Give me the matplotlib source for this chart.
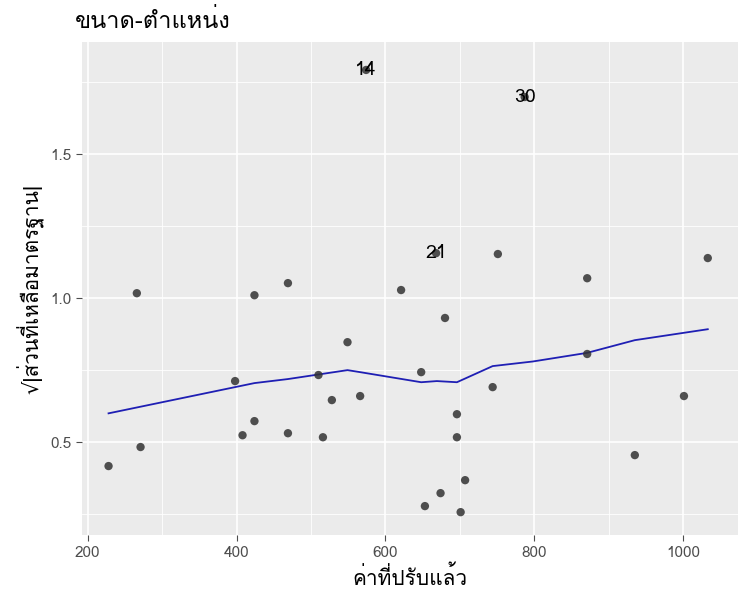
import matplotlib
matplotlib.use("Agg")
import matplotlib.pyplot as plt
from matplotlib import font_manager
from fontTools.ttLib import TTFont

# find an installed font that has Thai glyphs
thai_font = None
for f in font_manager.fontManager.ttflist:
    try:
        tt = TTFont(f.fname, fontNumber=0, lazy=True)
        if 0x0E02 in tt.getBestCmap():
            thai_font = f.name
            break
    except Exception:
        pass
fams = ([thai_font] if thai_font else []) + ['DejaVu Sans']
plt.rcParams['font.family'] = fams

fitted = [228, 271, 266, 398, 408, 424, 424, 469, 469, 510, 516, 528, 549, 566, 574,
          621, 648, 653, 668, 674, 680, 696, 696, 701, 707, 744, 751, 787, 871, 871,
          935, 1001, 1033]
sqrt_std = [0.417, 0.483, 1.017, 0.712, 0.524, 0.573, 1.010, 1.052, 0.531, 0.733, 0.517,
            0.646, 0.847, 0.660, 1.792, 1.028, 0.743, 0.278, 1.156, 0.323, 0.931, 0.597,
            0.517, 0.257, 0.368, 0.691, 1.153, 1.698, 1.069, 0.806, 0.455, 0.660, 1.139]
labels = {14: (574, 1.792), 21: (668, 1.156), 30: (787, 1.698)}
smooth_x = [228, 424, 469, 549, 566, 648, 669, 696, 744, 798, 871, 935, 1033]
smooth_y = [0.60, 0.705, 0.719, 0.75, 0.743, 0.708, 0.712, 0.708, 0.764, 0.78, 0.81, 0.854, 0.892]

fig = plt.figure(figsize=(7.5, 6), dpi=100)
ax = fig.add_axes([0.109, 0.108, 0.875, 0.822])
ax.set_facecolor('#EBEBEB')
ax.scatter(fitted, sqrt_std, s=36, color='#333333', alpha=0.85, edgecolors='none', zorder=3)
ax.plot(smooth_x, smooth_y, color='#1f1fb4', lw=1.3, zorder=2)
for k, (x, y) in labels.items():
    ax.text(x, y, str(k), ha='center', va='center', fontsize=14, zorder=4)

ax.set_xlim(192, 1073.6)
ax.set_ylim(0.177, 1.889)
ax.set_xticks([200, 400, 600, 800, 1000])
ax.set_yticks([0.5, 1.0, 1.5])
ax.set_xticks([300, 500, 700, 900], minor=True)
ax.set_yticks([0.25, 0.75, 1.25, 1.75], minor=True)
ax.grid(which='major', color='white', lw=1.2)
ax.grid(which='minor', color='white', lw=0.6)
ax.set_axisbelow(True)
for s in ax.spines.values():
    s.set_visible(False)
ax.tick_params(which='major', colors='#4d4d4d', labelsize=11, length=4)
ax.tick_params(which='minor', length=0)
ax.set_xlabel('ค่าที่ปรับแล้ว', fontsize=15)
ax.set_ylabel('√|ส่วนที่เหลือมาตรฐาน|', fontsize=15)
ax.set_title('ขนาด-ตำแหน่ง', loc='left', fontsize=17, x=-0.01, pad=10)

fig.savefig('out.png')
